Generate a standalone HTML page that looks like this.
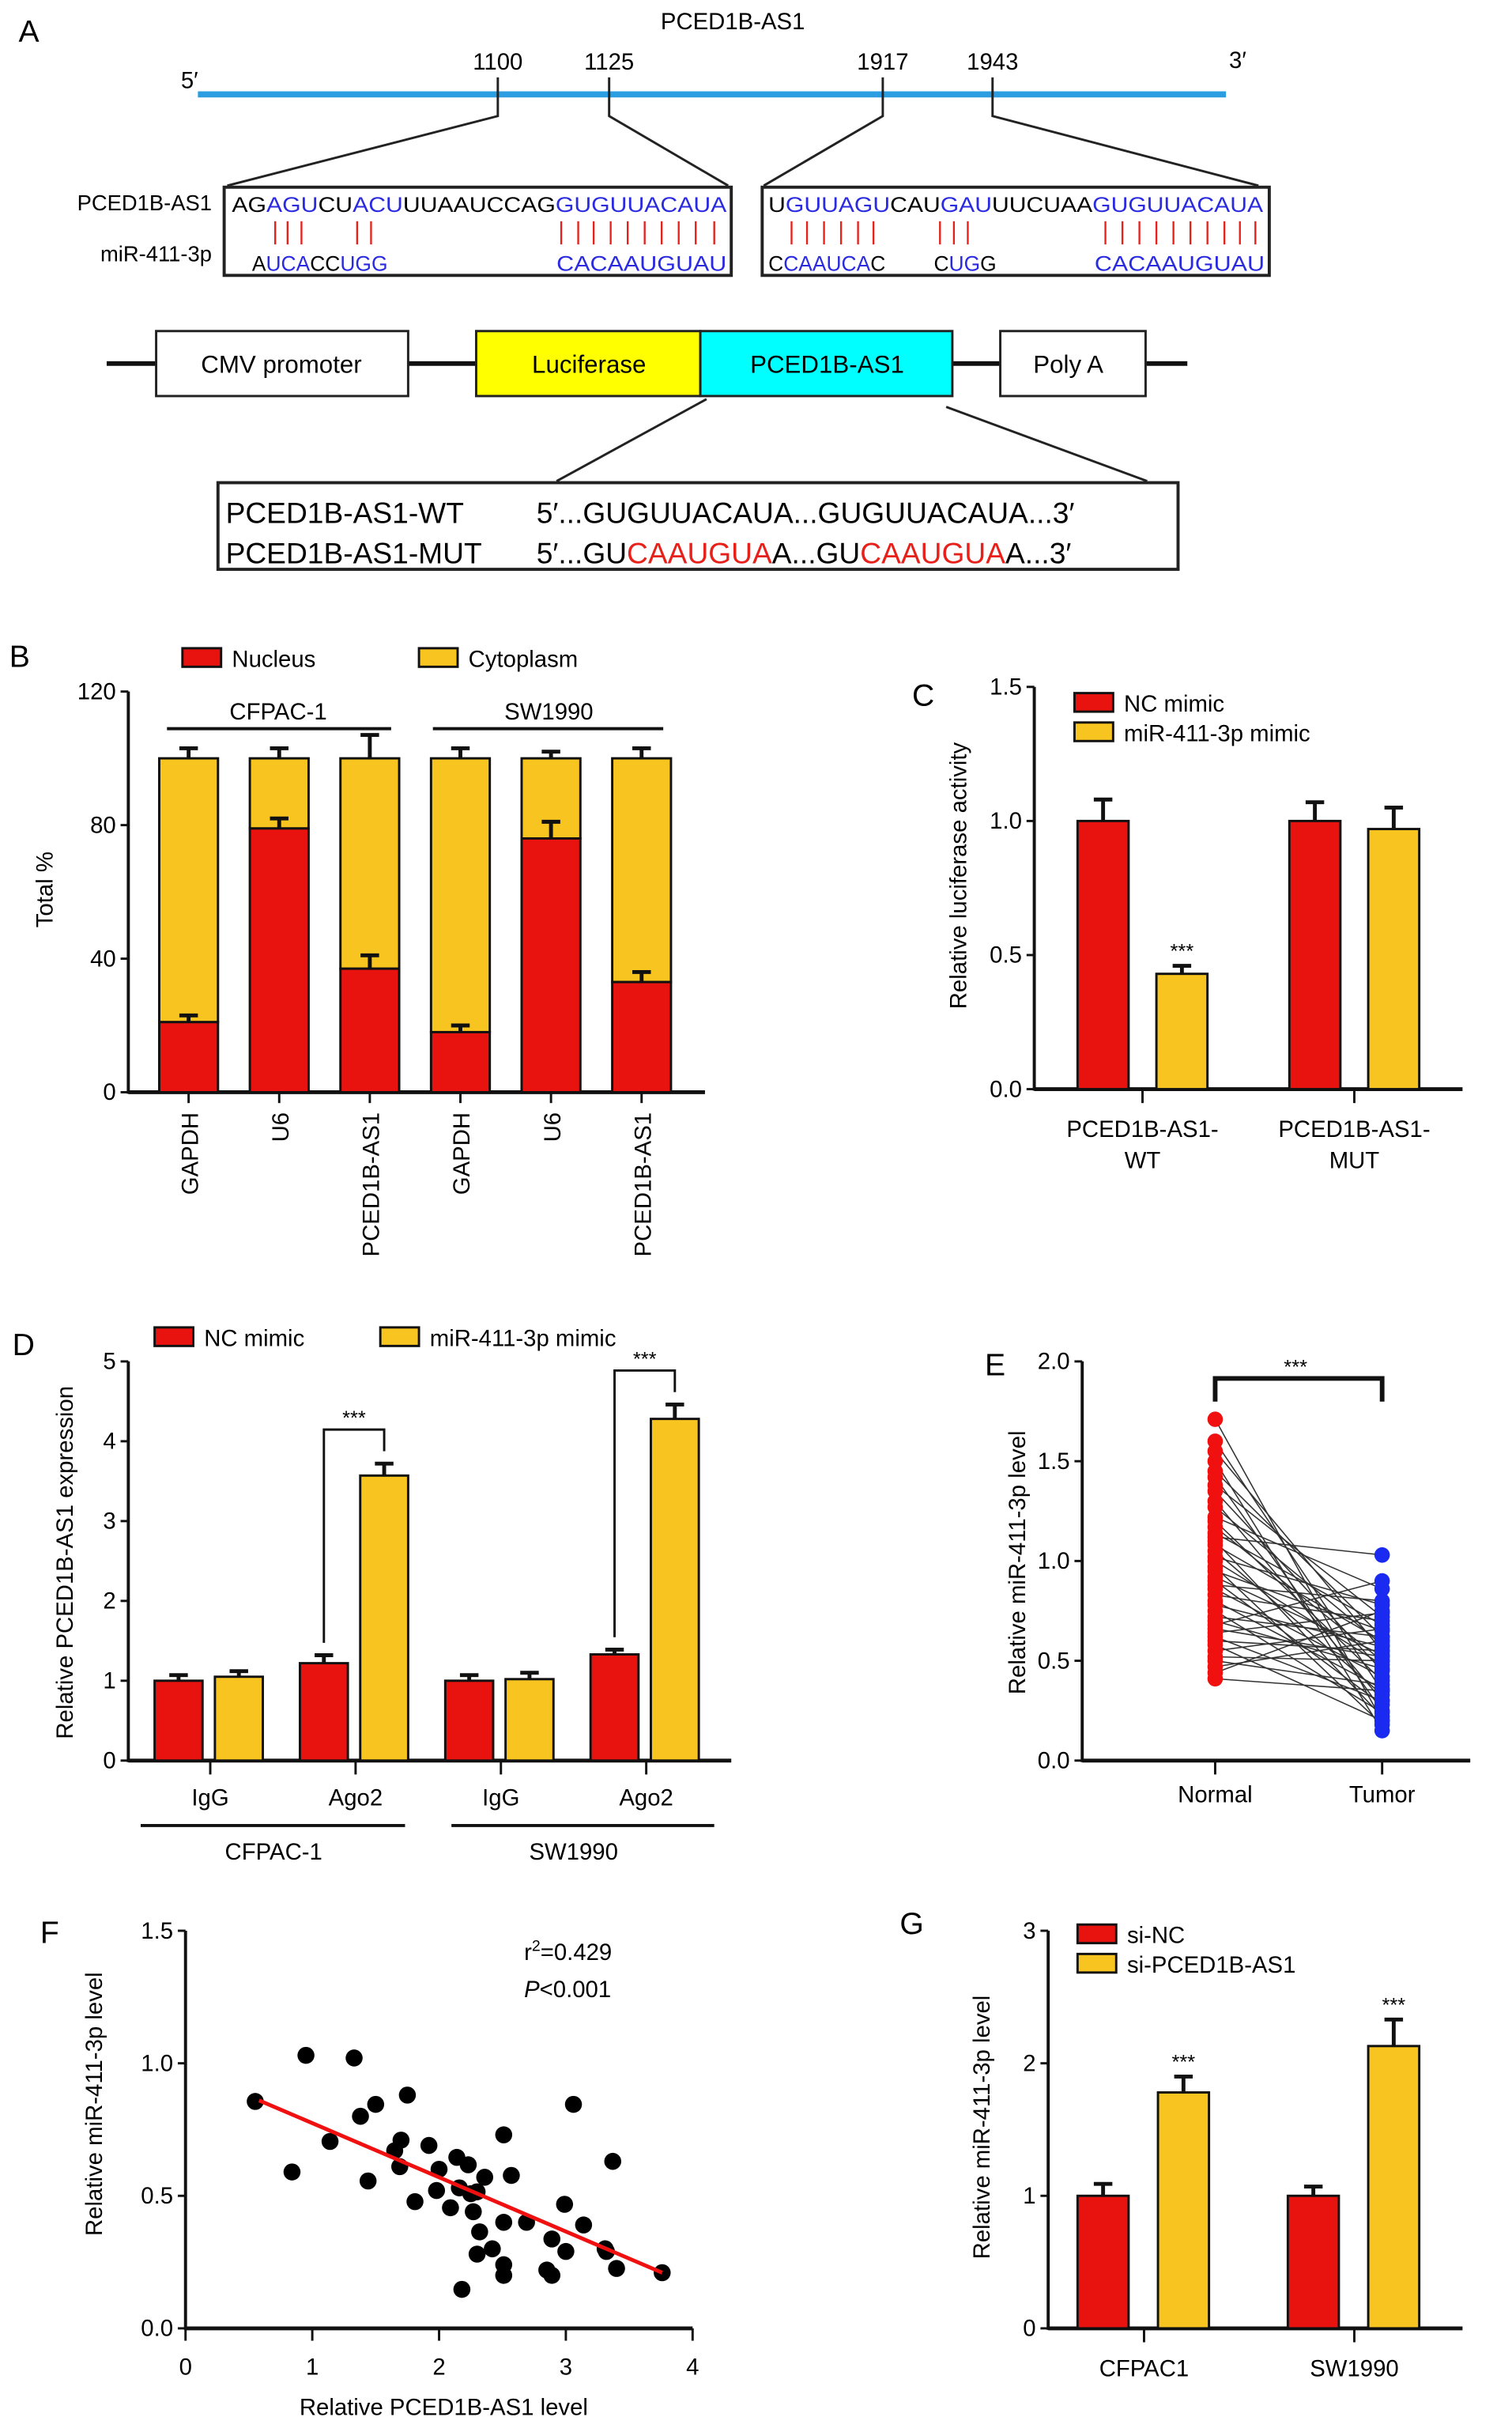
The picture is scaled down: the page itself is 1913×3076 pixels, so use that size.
<!DOCTYPE html>
<html><head><meta charset="utf-8"><style>
html,body{margin:0;padding:0;background:#fff}
svg{display:block}
text{font-family:"Liberation Sans",sans-serif}
</style></head><body>
<svg id="fig" xmlns="http://www.w3.org/2000/svg" width="1913" height="3076" viewBox="0 0 978 1572" preserveAspectRatio="none">
<g>
<text x="12" y="27" font-size="20">A</text>
<text x="474" y="19" font-size="15" text-anchor="middle">PCED1B-AS1</text>
<line x1="128" y1="61" x2="793" y2="61" stroke="#2b9de0" stroke-width="4"/>
<text x="117" y="57" font-size="15">5′</text>
<text x="795" y="44" font-size="15">3′</text>
<g stroke="#222" stroke-width="1.5" fill="none">
<path d="M322 50V75L147 120M394 50V75L471 120M571 50V75L494 120M642 50V75L814 120"/>
</g>
<g font-size="15" text-anchor="middle">
<text x="322" y="45">1100</text><text x="394" y="45">1125</text><text x="571" y="45">1917</text><text x="642" y="45">1943</text>
</g>
<rect x="145" y="121" width="328" height="57" fill="none" stroke="#222" stroke-width="2"/>
<rect x="493" y="121" width="328" height="57" fill="none" stroke="#222" stroke-width="2"/>
<text x="137" y="136" font-size="14" text-anchor="end">PCED1B-AS1</text>
<text x="137" y="169" font-size="14" text-anchor="end">miR-411-3p</text>
<g font-size="13.5">
<text x="150" y="137" textLength="320" lengthAdjust="spacingAndGlyphs">AG<tspan fill="#2a2ae0">AGU</tspan>CU<tspan fill="#2a2ae0">ACU</tspan>UUAAUCCAG<tspan fill="#2a2ae0">GUGUUACAUA</tspan></text>
<text x="163" y="175">A<tspan fill="#2a2ae0">UCA</tspan>CC<tspan fill="#2a2ae0">UGG</tspan></text>
<text x="360" y="175" fill="#2a2ae0" textLength="110" lengthAdjust="spacingAndGlyphs">CACAAUGUAU</text>
<text x="497" y="137" textLength="320" lengthAdjust="spacingAndGlyphs">U<tspan fill="#2a2ae0">GUUAGU</tspan>CAU<tspan fill="#2a2ae0">GAU</tspan>UUCUAA<tspan fill="#2a2ae0">GUGUUACAUA</tspan></text>
<text x="497" y="175">C<tspan fill="#2a2ae0">CAAUCA</tspan>C</text>
<text x="604" y="175">C<tspan fill="#2a2ae0">UG</tspan>G</text>
<text x="708" y="175" fill="#2a2ae0" textLength="110" lengthAdjust="spacingAndGlyphs">CACAAUGUAU</text>
</g>
<g stroke="#e8201a" stroke-width="1.2" id="pairs"></g>
<line x1="69" y1="235" x2="768" y2="235" stroke="#111" stroke-width="3"/>
<rect x="101" y="214" width="163" height="42" fill="#fff" stroke="#222" stroke-width="1.5"/>
<rect x="308" y="214" width="145" height="42" fill="#ffff00" stroke="#222" stroke-width="1.5"/>
<rect x="453" y="214" width="163" height="42" fill="#00ffff" stroke="#222" stroke-width="1.5"/>
<rect x="647" y="214" width="94" height="42" fill="#fff" stroke="#222" stroke-width="1.5"/>
<g font-size="16" text-anchor="middle"><text x="182" y="241">CMV promoter</text><text x="381" y="241">Luciferase</text><text x="535" y="241">PCED1B-AS1</text><text x="691" y="241">Poly A</text></g>
<path d="M457 258L360 311M612 263L742 311" stroke="#222" stroke-width="1.5"/>
<rect x="141" y="312" width="621" height="56" fill="none" stroke="#222" stroke-width="2"/>
<g font-size="19">
<text x="146" y="338">PCED1B-AS1-WT</text><text x="347" y="338">5′...GUGUUACAUA...GUGUUACAUA...3′</text>
<text x="146" y="364">PCED1B-AS1-MUT</text><text x="347" y="364">5′...GU<tspan fill="#e8201a">CAAUGUA</tspan>A...GU<tspan fill="#e8201a">CAAUGUA</tspan>A...3′</text>
</g>
</g>
<g id="charts"></g>
</svg>
<script>
const bCategories = ["GAPDH","U6","PCED1B-AS1","GAPDH","U6","PCED1B-AS1"];
const bNucleus = [21,79,37,18,76,33];
const bNucleusErr = [2,3,4,2,5,3];
const bCytoTotal = [100,100,100,100,100,100];
const bCytoErr = [3,3,7,3,2,3];
const bTicks = [0,40,80,120];

const cCategories = ["PCED1B-AS1-WT","PCED1B-AS1-MUT"];
const cNC = [1.0,1.0];
const cNCErr = [0.08,0.07];
const cMimic = [0.43,0.97];
const cMimicErr = [0.03,0.08];
const cTicks = ["0.0","0.5","1.0","1.5"];

const dCategories = ["IgG","Ago2","IgG","Ago2"];
const dNC = [1.0,1.22,1.0,1.33];
const dNCErr = [0.07,0.1,0.07,0.06];
const dMimic = [1.05,3.57,1.02,4.28];
const dMimicErr = [0.07,0.15,0.08,0.18];
const dTicks = [0,1,2,3,4,5];

const eNormal = [1.71,1.6,1.55,1.5,1.45,1.42,1.38,1.35,1.3,1.27,1.22,1.2,1.17,1.14,1.12,1.1,1.08,1.05,1.02,1.0,0.97,0.95,0.92,0.9,0.88,0.86,0.83,0.8,0.78,0.75,0.72,0.7,0.68,0.66,0.64,0.62,0.6,0.58,0.55,0.52,0.5,0.47,0.44,0.41];
const eTumor = [0.2,0.35,0.55,0.15,0.62,0.25,0.72,0.45,0.3,0.58,0.86,0.4,0.5,0.68,1.03,0.22,0.6,0.33,0.78,0.48,0.18,0.65,0.53,0.28,0.8,0.42,0.7,0.36,0.57,0.24,0.62,0.46,0.9,0.52,0.74,0.3,0.55,0.2,0.66,0.5,0.38,0.6,0.75,0.35];
const eTicks = ["0.0","0.5","1.0","1.5","2.0"];

const fX = [0.55,0.84,0.95,1.14,1.33,1.38,1.44,1.5,1.75,1.65,1.7,1.69,1.81,1.92,1.98,2.0,2.09,2.14,2.16,2.18,2.23,2.25,2.27,2.3,2.32,2.3,2.36,2.42,2.51,2.51,2.51,2.51,2.57,2.69,2.85,2.89,2.89,2.99,3.0,3.06,3.14,3.31,3.32,3.37,3.4,3.76];
const fY = [0.856,0.59,1.03,0.705,1.02,0.8,0.556,0.845,0.88,0.67,0.71,0.61,0.478,0.69,0.52,0.6,0.455,0.645,0.53,0.147,0.617,0.508,0.44,0.515,0.364,0.28,0.57,0.3,0.73,0.4,0.24,0.2,0.577,0.4,0.22,0.337,0.2,0.468,0.29,0.845,0.39,0.3,0.29,0.63,0.226,0.21];
const fFitX = [0.58,3.76];
const fFitY = [0.86,0.21];
const fXTicks = [0,1,2,3,4];
const fYTicks = ["0.0","0.5","1.0","1.5"];

const gCategories = ["CFPAC1","SW1990"];
const gNC = [1.0,1.0];
const gNCErr = [0.09,0.07];
const gSi = [1.78,2.13];
const gSiErr = [0.12,0.2];
const gTicks = [0,1,2,3];

const NS="http://www.w3.org/2000/svg";
const root=document.getElementById('charts');
const RED="#e8120f", YEL="#f8c41f";
function mk(tag,attrs,parent,txt){const e=document.createElementNS(NS,tag);for(const k in attrs)e.setAttribute(k,attrs[k]);if(txt!==undefined)e.textContent=txt;(parent||root).appendChild(e);return e;}
function lin(d0,d1,r0,r1){return v=>r0+(v-d0)*(r1-r0)/(d1-d0);}
function bar(g,x,w,y0,y1,fill,name){const r=mk('rect',{x:x,y:Math.min(y0,y1),width:w,height:Math.abs(y1-y0),fill:fill,stroke:'#111','stroke-width':1.5},g);

return r;}
function err(g,cx,ytop,yerr,hw){mk('path',{d:`M${cx} ${ytop}V${yerr}M${cx-hw} ${yerr}H${cx+hw}`,stroke:'#111','stroke-width':2.5,fill:'none'},g);}
function yaxis(g,x,y0,y1,ticks,scale,fs){mk('line',{x1:x,y1:y0+1,x2:x,y2:y1,stroke:'#111','stroke-width':2},g);
ticks.forEach(t=>{const y=scale(parseFloat(t));mk('line',{x1:x-5,y1:y,x2:x,y2:y,stroke:'#111','stroke-width':1.5},g);mk('text',{x:x-8,y:y+5,'font-size':fs||15,'text-anchor':'end'},g,String(t));});}
function legend(g,x,y,color,label){const r=mk('rect',{x:x,y:y,width:25,height:12,fill:color,stroke:'#111','stroke-width':1.5},g);


mk('text',{x:x+32,y:y+12,'font-size':15},g,label);}
function ylabel(g,x,y,label){mk('text',{x:0,y:0,'font-size':15,'text-anchor':'middle',transform:`translate(${x},${y}) rotate(-90)`},g,label);}

(function(){const p=document.getElementById('pairs');const xs=[178,186,195,231,240,363,374,384,395,406,417,428,439,450,462,
512,522,533,544,555,565,608,617,626,715,726,737,748,759,770,781,792,802,812];
xs.forEach(x=>mk('line',{x1:x,y1:143,x2:x,y2:158},p));})();

// Panel B
(function(){const g=mk('g',{});
mk('text',{x:6,y:431,'font-size':20},g,'B');
const y=lin(0,120,706,447);const xc=i=>122+i*58.6;const w=38;
yaxis(g,83,706,447,bTicks,y);
mk('line',{x1:83,y1:706,x2:456,y2:706,stroke:'#111','stroke-width':2.5},g);
bCategories.forEach((c,i)=>{const cx=xc(i);
bar(g,cx-w/2,w,y(bNucleus[i]),y(bCytoTotal[i]),YEL,'bar-cytoplasm-'+i);
err(g,cx,y(bCytoTotal[i]),y(bCytoTotal[i]+bCytoErr[i]),6);
bar(g,cx-w/2,w,y(0),y(bNucleus[i]),RED,'bar-nucleus-'+i);
err(g,cx,y(bNucleus[i]),y(bNucleus[i]+bNucleusErr[i]),6);
mk('line',{x1:cx,y1:706,x2:cx,y2:713,stroke:'#111','stroke-width':1.5},g);
mk('text',{x:0,y:0,'font-size':15,'text-anchor':'end',transform:`translate(${cx+6},${719}) rotate(-90)`},g,c);});
mk('line',{x1:108,y1:471,x2:253,y2:471,stroke:'#111','stroke-width':2},g);
mk('line',{x1:280,y1:471,x2:429,y2:471,stroke:'#111','stroke-width':2},g);
mk('text',{x:180,y:465,'font-size':15,'text-anchor':'middle'},g,'CFPAC-1');
mk('text',{x:355,y:465,'font-size':15,'text-anchor':'middle'},g,'SW1990');
legend(g,118,419,RED,'Nucleus');legend(g,271,419,YEL,'Cytoplasm');
ylabel(g,34,575,'Total %');})();

// Panel C
(function(){const g=mk('g',{});
mk('text',{x:590,y:456,'font-size':20},g,'C');
const y=lin(0,1.5,704,444);yaxis(g,669,704,444,cTicks,y);
mk('line',{x1:669,y1:704,x2:946,y2:704,stroke:'#111','stroke-width':2.5},g);
const gc=i=>739+i*137;const w=33;
cCategories.forEach((c,i)=>{const cx=gc(i);
bar(g,cx-42,w,y(0),y(cNC[i]),RED,'bar-nc-'+i);err(g,cx-25.5,y(cNC[i]),y(cNC[i]+cNCErr[i]),6);
bar(g,cx+9,w,y(0),y(cMimic[i]),YEL,'bar-mimic-'+i);err(g,cx+25.5,y(cMimic[i]),y(cMimic[i]+cMimicErr[i]),6);
mk('line',{x1:cx,y1:704,x2:cx,y2:713,stroke:'#111','stroke-width':1.5},g);
const parts=c.split('-');const last=parts.pop();
mk('text',{x:cx,y:735,'font-size':15,'text-anchor':'middle'},g,parts.join('-')+'-');
mk('text',{x:cx,y:755,'font-size':15,'text-anchor':'middle'},g,last);});
mk('text',{x:gc(0)+25.5,y:y(cMimic[0]+cMimicErr[0])-5,'font-size':13,'text-anchor':'middle'},g,'***');
legend(g,695,448,RED,'NC mimic');legend(g,695,467,YEL,'miR-411-3p mimic');
ylabel(g,625,566,'Relative luciferase activity');})();

// Panel D
(function(){const g=mk('g',{});
mk('text',{x:8,y:876,'font-size':20},g,'D');
const y=lin(0,5,1138,880);yaxis(g,83,1138,880,dTicks,y);
mk('line',{x1:83,y1:1138,x2:473,y2:1138,stroke:'#111','stroke-width':2.5},g);
const gc=i=>136+i*94;const w=31;
dCategories.forEach((c,i)=>{const cx=gc(i);
bar(g,cx-36,w,y(0),y(dNC[i]),RED,'bar-nc-'+i);err(g,cx-20.5,y(dNC[i]),y(dNC[i]+dNCErr[i]),6);
bar(g,cx+3,w,y(0),y(dMimic[i]),YEL,'bar-mimic-'+i);err(g,cx+18.5,y(dMimic[i]),y(dMimic[i]+dMimicErr[i]),6);
mk('line',{x1:cx,y1:1138,x2:cx,y2:1147,stroke:'#111','stroke-width':1.5},g);
mk('text',{x:cx,y:1167,'font-size':15,'text-anchor':'middle'},g,c);
if(c==='Ago2'){const xa=cx-20.5,xb=cx+18.5,top=y(dMimic[i]+dMimicErr[i])-22;
mk('path',{d:`M${xa} ${y(dNC[i]+dNCErr[i])-8}V${top}H${xb}V${top+14}`,stroke:'#111','stroke-width':1.5,fill:'none'},g);
mk('text',{x:(xa+xb)/2,y:top-3,'font-size':13,'text-anchor':'middle'},g,'***');}});
mk('line',{x1:91,y1:1180,x2:262,y2:1180,stroke:'#111','stroke-width':2},g);
mk('line',{x1:292,y1:1180,x2:462,y2:1180,stroke:'#111','stroke-width':2},g);
mk('text',{x:177,y:1202,'font-size':15,'text-anchor':'middle'},g,'CFPAC-1');
mk('text',{x:371,y:1202,'font-size':15,'text-anchor':'middle'},g,'SW1990');
legend(g,100,858,RED,'NC mimic');legend(g,246,858,YEL,'miR-411-3p mimic');
ylabel(g,47,1010,'Relative PCED1B-AS1 expression');})();

// Panel E
(function(){const g=mk('g',{});
mk('text',{x:637,y:889,'font-size':20},g,'E');
const y=lin(0,2,1138,880);yaxis(g,700,1138,880,eTicks,y);
mk('line',{x1:700,y1:1138,x2:951,y2:1138,stroke:'#111','stroke-width':2.5},g);
const xn=786,xt=894;
eNormal.forEach((v,i)=>{const l=mk('line',{x1:xn,y1:y(v),x2:xt,y2:y(eTumor[i]),stroke:'#333','stroke-width':0.8},g);

});
eNormal.forEach(v=>{const c=mk('circle',{cx:xn,cy:y(v),r:5,fill:'#f01010'},g);

});
eTumor.forEach(v=>{const c=mk('circle',{cx:xt,cy:y(v),r:5,fill:'#1a2af0'},g);

});
[xn,xt].forEach((x,i)=>{mk('line',{x1:x,y1:1138,x2:x,y2:1147,stroke:'#111','stroke-width':1.5},g);
mk('text',{x:x,y:1165,'font-size':15,'text-anchor':'middle'},g,i?'Tumor':'Normal');});
mk('path',{d:`M${xn} 906V891H${xt}V906`,stroke:'#111','stroke-width':3,fill:'none'},g);
mk('text',{x:838,y:888,'font-size':13,'text-anchor':'middle'},g,'***');
ylabel(g,663,1010,'Relative miR-411-3p level');})();

// Panel F
(function(){const g=mk('g',{});
mk('text',{x:26,y:1256,'font-size':20},g,'F');
const x=lin(0,4,120,448),y=lin(0,1.5,1505,1248);yaxis(g,120,1505,1248,fYTicks,y);
mk('line',{x1:120,y1:1505,x2:448,y2:1505,stroke:'#111','stroke-width':2.5},g);
fXTicks.forEach(t=>{mk('line',{x1:x(t),y1:1505,x2:x(t),y2:1513,stroke:'#111','stroke-width':1.5},g);
mk('text',{x:x(t),y:1535,'font-size':15,'text-anchor':'middle'},g,String(t));});
fX.forEach((v,i)=>{const c=mk('circle',{cx:x(v),cy:y(fY[i]),r:5.5,fill:'#000'},g);

});
const fl=mk('line',{x1:x(fFitX[0]),y1:y(fFitY[0]),x2:x(fFitX[1]),y2:y(fFitY[1]),stroke:'#f01010','stroke-width':2.5},g);


const t=mk('text',{x:339,y:1267,'font-size':15},g);t.innerHTML='r<tspan dy="-6" font-size="10">2</tspan><tspan dy="6">=0.429</tspan>';
const p=mk('text',{x:339,y:1291,'font-size':15},g);p.innerHTML='<tspan font-style="italic">P</tspan>&lt;0.001';
mk('text',{x:287,y:1561,'font-size':15,'text-anchor':'middle'},g,'Relative PCED1B-AS1 level');
ylabel(g,66,1360,'Relative miR-411-3p level');})();

// Panel G
(function(){const g=mk('g',{});
mk('text',{x:582,y:1250,'font-size':20},g,'G');
const y=lin(0,3,1505,1248);yaxis(g,678,1505,1248,gTicks,y);
mk('line',{x1:678,y1:1505,x2:946,y2:1505,stroke:'#111','stroke-width':2.5},g);
const gc=i=>740+i*136;const w=33;
gCategories.forEach((c,i)=>{const cx=gc(i);
bar(g,cx-43,w,y(0),y(gNC[i]),RED,'bar-sinc-'+i);err(g,cx-26.5,y(gNC[i]),y(gNC[i]+gNCErr[i]),6);
bar(g,cx+9,w,y(0),y(gSi[i]),YEL,'bar-sipced-'+i);err(g,cx+25.5,y(gSi[i]),y(gSi[i]+gSiErr[i]),6);
mk('text',{x:cx+25.5,y:y(gSi[i]+gSiErr[i])-5,'font-size':13,'text-anchor':'middle'},g,'***');
mk('line',{x1:cx,y1:1505,x2:cx,y2:1514,stroke:'#111','stroke-width':1.5},g);
mk('text',{x:cx,y:1536,'font-size':15,'text-anchor':'middle'},g,c);});
legend(g,697,1244,RED,'si-NC');legend(g,697,1263,YEL,'si-PCED1B-AS1');
ylabel(g,640,1375,'Relative miR-411-3p level');})();
</script>
</body></html>
